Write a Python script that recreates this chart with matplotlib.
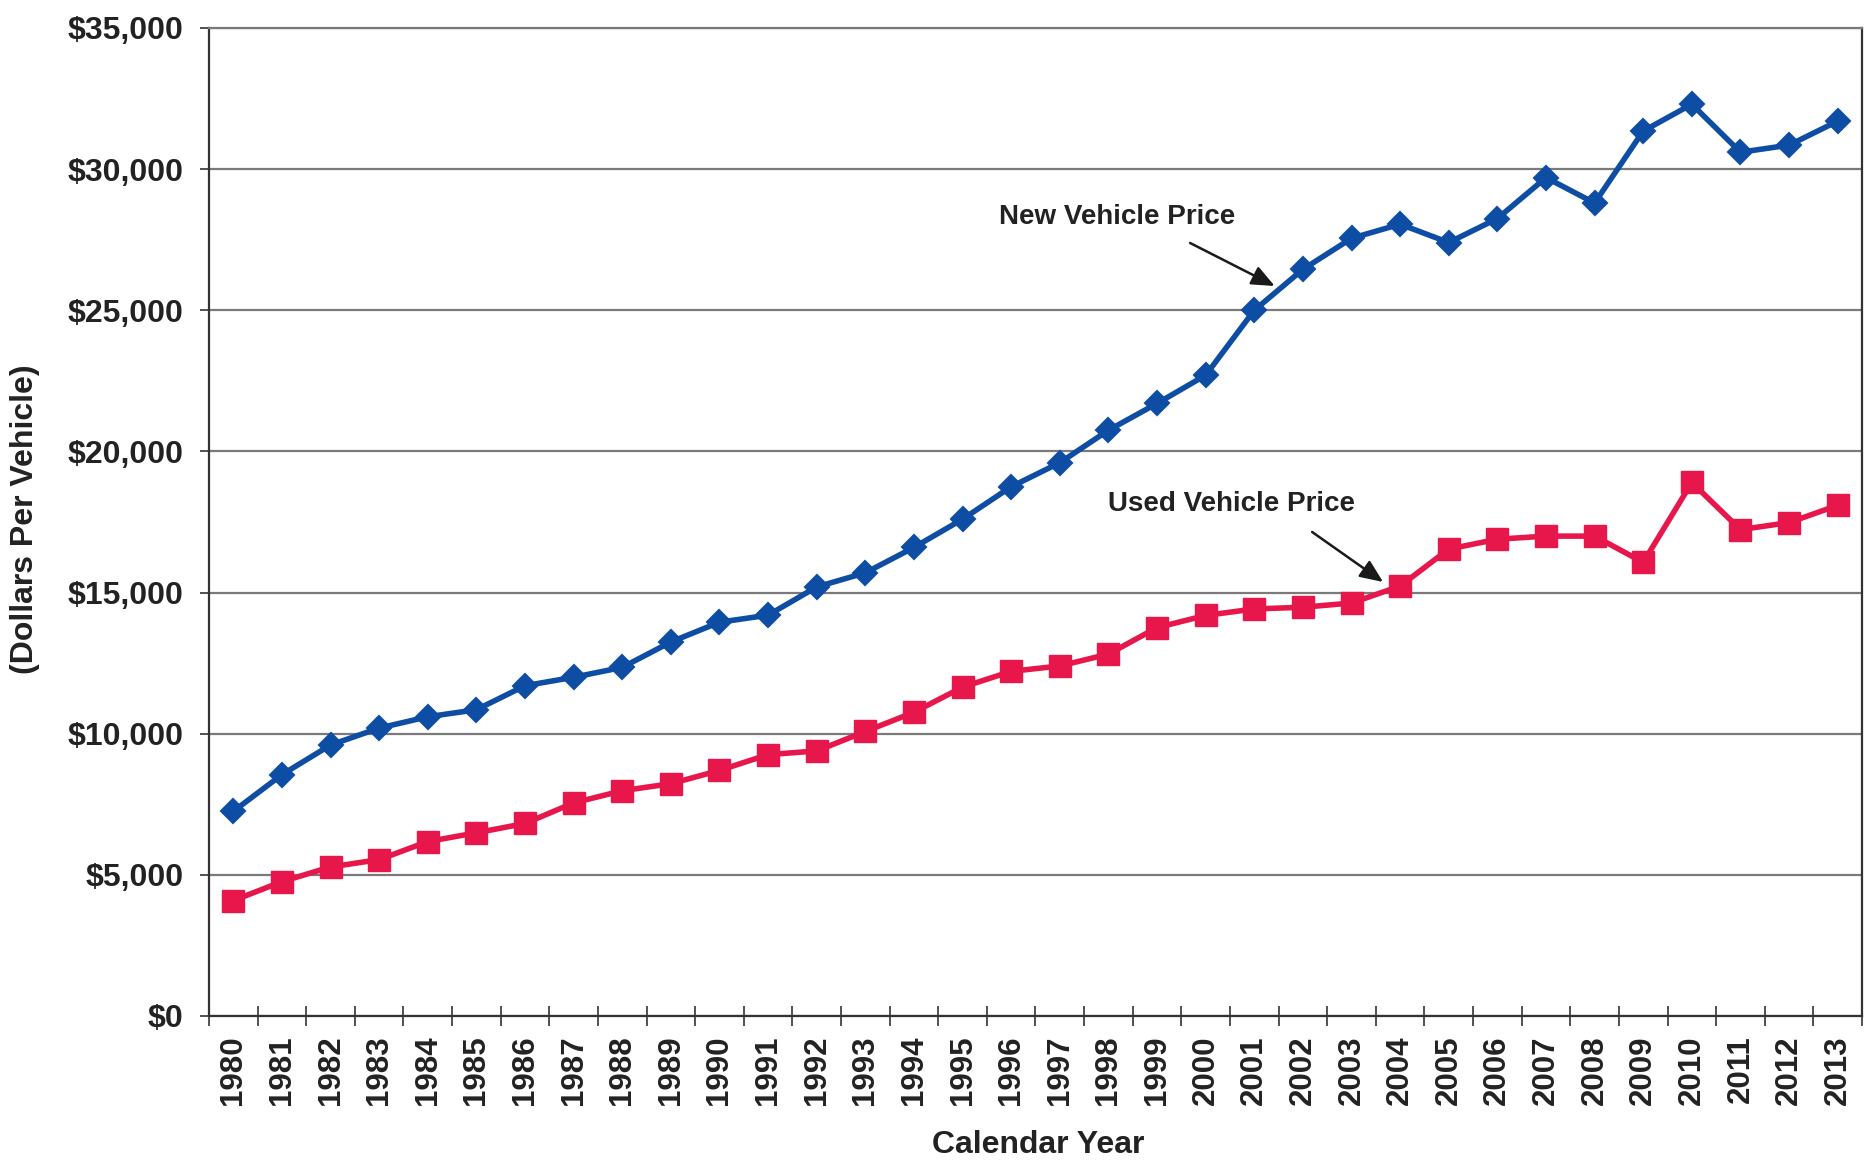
import matplotlib
matplotlib.use("Agg")
import matplotlib.pyplot as plt
from matplotlib.ticker import FixedLocator, FuncFormatter

years = [str(y) for y in range(1980, 2014)]
new_price = [7250, 8550, 9600, 10200, 10600, 10850, 11700, 12000, 12350, 13250,
             13950, 14200, 15200, 15700, 16600, 17600, 18750, 19600, 20750, 21700,
             22700, 25000, 26450, 27550, 28050, 27400, 28250, 29700, 28800, 31350,
             32300, 30600, 30850, 31700]
used_price = [4090, 4760, 5280, 5540, 6180, 6490, 6820, 7550, 7980, 8230,
              8700, 9260, 9390, 10080, 10760, 11650, 12210, 12400, 12820, 13760,
              14190, 14420, 14480, 14630, 15230, 16540, 16890, 17000, 17000, 16070,
              18900, 17230, 17480, 18090]
y_ticks = [0, 5000, 10000, 15000, 20000, 25000, 30000, 35000]

TXT = "#222222"
BLUE = "#0E4DA4"
RED = "#E8174B"
FONT = ["Liberation Sans", "DejaVu Sans"]
plt.rcParams["font.family"] = FONT
plt.rcParams["font.weight"] = "bold"

fig = plt.figure(figsize=(18.64, 11.61), dpi=100)
ax = fig.add_axes([209 / 1864, 145 / 1161, 1653 / 1864, 988 / 1161])

x = list(range(len(years)))
ax.plot(x, new_price, color=BLUE, lw=4, marker="D", markersize=12,
        markerfacecolor=BLUE, markeredgecolor=BLUE, mew=1.5, zorder=3)
ax.plot(x, used_price, color=RED, lw=4, marker="s", markersize=16,
        markerfacecolor=RED, markeredgecolor=RED, mew=1, zorder=3)

ax.set_xlim(-0.5, len(years) - 0.5)
ax.set_ylim(0, 35000)
ax.yaxis.set_major_locator(FixedLocator(y_ticks))
ax.yaxis.set_major_formatter(FuncFormatter(lambda v, p: f"${int(v):,}"))
ax.set_xticks(x)
ax.set_xticklabels(years, rotation=90)
ax.set_xticks([i - 0.5 for i in range(len(years) + 1)], minor=True)

ax.grid(axis="y", color="#7a7a7a", lw=1.6, zorder=1)
ax.tick_params(axis="y", which="major", direction="out", length=6.5, width=1.2,
               color="#333333", labelsize=23, labelcolor=TXT, pad=12)
ax.tick_params(axis="x", which="major", length=0, labelsize=22.5, labelcolor=TXT, pad=14)
ax.tick_params(axis="x", which="minor", direction="inout", length=14, width=1.2,
               color="#333333")
for lab in ax.get_xticklabels() + ax.get_yticklabels():
    lab.set_fontweight("bold")

for s in ["left", "bottom", "right"]:
    ax.spines[s].set_color("#333333")
    ax.spines[s].set_linewidth(1.6)
ax.spines["top"].set_color("#7a7a7a")
ax.spines["top"].set_linewidth(1.6)

ax.set_xlabel("Calendar Year", fontsize=23, fontweight="bold", color=TXT)
ax.xaxis.set_label_coords(0.5015, -0.1306)
ax.xaxis.label.set_va("center")
ax.set_ylabel("(Dollars Per Vehicle)", fontsize=23, fontweight="bold", color=TXT)
ax.yaxis.set_label_coords(-0.1113, 0.503)
ax.yaxis.label.set_va("center")

ax.text(18.175, 28305, "New Vehicle Price", fontsize=20, fontweight="bold",
        color=TXT, ha="center", va="center")
ax.annotate("", xy=(21.42, 25860), xytext=(19.68, 27384),
            arrowprops=dict(arrowstyle="-|>,head_length=0.7,head_width=0.3",
                            mutation_scale=20, color="#1a1a1a", lw=1.8,
                            shrinkA=0, shrinkB=0))
ax.text(20.54, 18138, "Used Vehicle Price", fontsize=20, fontweight="bold",
        color=TXT, ha="center", va="center")
ax.annotate("", xy=(23.65, 15375), xytext=(22.19, 17146),
            arrowprops=dict(arrowstyle="-|>,head_length=0.7,head_width=0.3",
                            mutation_scale=20, color="#1a1a1a", lw=1.8,
                            shrinkA=0, shrinkB=0))

fig.savefig("out.png", dpi=100, facecolor="white")
